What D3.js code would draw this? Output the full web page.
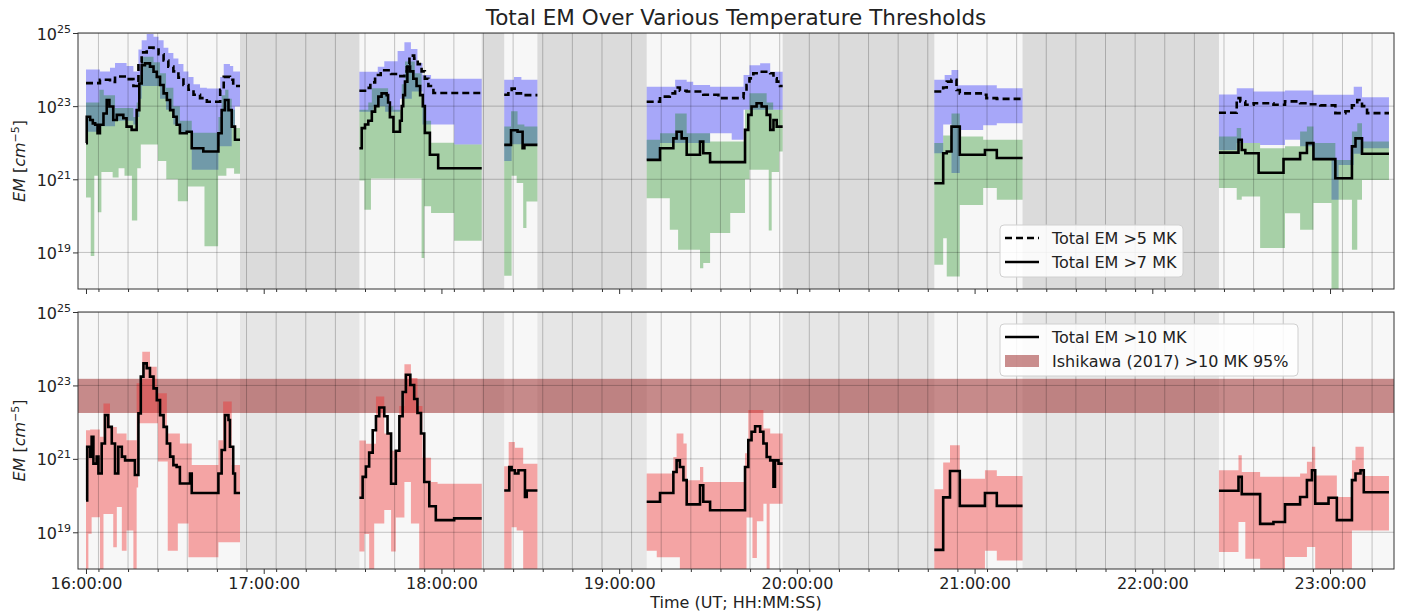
<!DOCTYPE html>
<html><head><meta charset="utf-8">
<script src="https://cdn.jsdelivr.net/npm/d3@7"></script>
<style>
body{margin:0;background:#fff}
text{font-family:"DejaVu Sans",sans-serif;fill:#222}
</style>
</head><body>
<svg id="chart" width="1403" height="614"></svg>
<script>
// ---------------- DATA (time = minutes after 16:00:00 UT, value = log10 EM [cm^-5]) ----------------
const hourTicks = [0, 60, 120, 180, 240, 300, 360, 420];
const hourLabels = ["16:00:00","17:00:00","18:00:00","19:00:00","20:00:00","21:00:00","22:00:00","23:00:00"];
const minorTicks = [4.2,14.2,24.2,34.2,44.2,54.2,64.2,74.2,84.2,94.2,104.2,114.2,124.2,134.2,144.2,154.2,164.2,174.2,184.2,194.2,204.2,214.2,224.2,234.2,244.2,254.2,264.2,274.2,284.2,294.2,304.2,314.2,324.2,334.2,344.2,354.2,364.2,374.2,384.2,394.2,404.2,414.2,424.2,434.2];
const yTickExp = [19, 21, 23, 25];
const nightStart = [52, 133.6, 152.4, 235.2, 316.2];
const nightEnd   = [92.3, 141.2, 189.3, 286.4, 382.5];
const ishikawaBand = [22.25, 23.18];

// Total EM > 5 MK (dashed)
const em5 = [
 [[0,23.63],[4.7,23.72],[8.1,23.66],[9.8,23.81],[13.7,23.74],[16.0,23.55],[17.7,24.2],[18.8,24.47],[20.5,24.6],[22.8,24.55],[24.5,24.42],[26.2,24.25],[27.8,24.08],[29.5,23.95],[31.2,23.78],[32.9,23.58],[34.6,23.45],[36.3,23.31],[38.5,23.22],[40.8,23.12],[45.3,23.45],[46.5,23.8],[48.6,23.72],[49.7,23.55],[52]],
 [[92.3,23.42],[94.2,23.5],[96,23.65],[97.6,23.85],[99.5,23.98],[103,23.88],[105.5,23.82],[107.5,23.95],[108.3,24.15],[109.2,24.38],[110.8,24.3],[112,24.15],[113.3,23.95],[114.4,23.75],[115.6,23.55],[117.3,23.36],[133.6]],
 [[141.2,23.31],[142.6,23.44],[143.7,23.48],[145.4,23.35],[147.6,23.3],[152.4]],
 [[189.3,23.12],[193.8,23.26],[197.1,23.35],[198.9,23.51],[200.5,23.42],[202.8,23.4],[208.4,23.31],[213.5,23.22],[222,23.35],[223,23.58],[224,23.76],[225.3,23.9],[227.6,23.94],[231,23.9],[232.1,23.76],[233.2,23.67],[234.3,23.55],[235.2]],
 [[286.4,23.4],[289.4,23.51],[290.6,23.67],[292.2,23.72],[293.9,23.44],[295,23.35],[302.9,23.31],[304,23.22],[307.5,23.2],[316.2]],
 [[382.5,22.82],[388.5,23.22],[389.7,23.13],[391.4,23.04],[394.2,23.08],[400.9,23.04],[404.8,23.13],[409.9,23.08],[412.2,23.05],[416.7,23.02],[421.8,22.81],[425.2,22.86],[427.4,23.02],[429.2,23.17],[430.8,23.0],[432.5,22.81],[439.9]]
];
const em5Hi = [
 [[0,24.0],[4.7,23.95],[8.1,24.05],[9.8,24.18],[13.7,24.1],[16,23.95],[17.7,24.55],[18.8,24.8],[20.5,24.97],[22.8,24.9],[24.5,24.8],[26.2,24.6],[27.8,24.45],[29.5,24.3],[31.2,24.15],[32.9,23.95],[34.6,23.8],[36.3,23.6],[38.5,23.5],[40.8,23.48],[45.3,23.8],[46.5,24.15],[48.6,24.1],[49.7,23.95],[52]],
 [[92.3,23.94],[98.5,24.08],[100.7,24.23],[105.2,24.51],[107.5,24.75],[109.7,24.56],[111.9,24.18],[113.6,23.85],[116.5,23.75],[133.6]],
 [[141.2,23.72],[144.5,23.8],[147,23.72],[152.4]],
 [[189.3,23.53],[198.9,23.72],[202.8,23.67],[205,23.58],[210.7,23.53],[222,23.85],[224,24.12],[227.6,24.17],[231,23.94],[235.2]],
 [[286.4,23.72],[289.9,23.85],[292.2,23.99],[294.5,23.57],[307.5,23.49],[316.2]],
 [[382.5,23.32],[388.5,23.49],[394.2,23.4],[404.8,23.43],[414.4,23.31],[428,23.53],[430.8,23.24],[439.9]]
];
const em5Lo = [
 [[0,22.3],[4.7,22.45],[9.8,22.6],[16,22.5],[17.1,22.7],[18,23.2],[18.8,23.55],[25,23.2],[27,22.9],[29.5,22.5],[31.7,22.26],[35.7,21.26],[44.7,21.9],[49.2,22.4],[50.3,22.99],[52]],
 [[92.3,22.85],[97,23.0],[101,22.85],[106,23.2],[110,23.4],[113.6,22.5],[124.3,21.95],[133.6]],
 [[141.2,21.5],[143.7,21.96],[152.4]],
 [[189.3,21.53],[193.8,21.99],[210.7,22.26],[218,22.08],[222,22.9],[235.2]],
 [[286.4,21.71],[289.4,22.5],[292.2,21.17],[295,22.35],[302.9,22.48],[307.5,22.53],[316.2]],
 [[382.5,21.8],[388.5,21.99],[396.4,21.94],[404.8,22.08],[409.9,21.9],[414.4,21.53],[420.5,20.44],[422.9,21.39],[428,21.7],[430.8,21.85],[439.9]]
];
// Total EM > 7 MK (solid, top panel)
const em7 = [
 [[0,21.99],[0.25,22.71],[1.4,22.62],[2.3,22.53],[3.1,22.49],[3.9,22.26],[4.7,22.49],[5.9,22.8],[7,23.17],[7.9,22.99],[9.2,22.62],[10.4,22.76],[12.6,22.67],[13.7,22.44],[15.4,22.35],[17.1,22.89],[18,23.62],[18.8,24.12],[19.9,24.17],[21.6,24.08],[22.8,23.94],[23.9,23.8],[25,23.58],[26.2,23.35],[27.3,23.17],[28.4,22.89],[29.5,22.71],[30.6,22.49],[31.7,22.26],[34,22.3],[35.7,21.85],[39.6,21.76],[44.7,22.26],[45.8,22.89],[46.9,23.17],[48.1,22.89],[49.2,22.44],[50.3,22.08],[52]],
 [[92.3,21.85],[93.1,22.4],[94.2,22.5],[95.3,22.6],[96.5,22.85],[97.6,23.0],[98.7,23.26],[99.8,23.35],[101.5,23.3],[102,23.1],[102.6,22.7],[103.8,22.3],[106,22.6],[106.6,23.0],[107.1,23.3],[107.7,23.67],[108.5,24.08],[109.4,23.95],[110.5,23.75],[111.6,23.55],[112.8,23.3],[113.7,23.0],[114.4,22.27],[116.1,21.67],[118.9,21.3],[133.6]],
 [[141.2,21.94],[143.5,22.34],[145.7,22.3],[147.4,21.85],[148,21.94],[152.4]],
 [[189.3,21.53],[193.8,21.85],[198.3,22.12],[199.4,22.3],[201.1,22.12],[202.8,21.67],[207.3,22.03],[208.4,21.71],[210.7,21.47],[222.5,22.35],[223.6,22.76],[224.7,22.99],[226.4,23.08],[228.1,22.99],[229.8,22.76],[231,22.35],[232.1,22.62],[233.2,22.44],[235.2]],
 [[286.4,20.89],[289.4,21.71],[290.6,21.76],[292.2,22.44],[295,21.67],[303.5,21.8],[307.5,21.58],[316.2]],
 [[382.5,21.73],[389.1,22.08],[390.2,21.8],[391.4,21.71],[395.9,21.18],[404.3,21.55],[409.9,21.72],[412.2,21.99],[414.4,21.55],[421.8,21.03],[427.4,21.9],[428.6,22.12],[430.8,21.7],[439.9]]
];
const em7Hi = [
 [[0,23.1],[4.5,23.45],[6,23.3],[9.8,22.95],[16,22.7],[17.1,23.1],[18,23.85],[18.8,24.35],[22.8,24.2],[25,23.9],[27,23.5],[29.5,23.0],[31.7,22.6],[35.7,22.27],[44.7,22.7],[45.8,23.3],[47,23.45],[48.1,23.2],[49.2,22.9],[50.3,22.4],[52]],
 [[92.3,22.9],[95.3,23.1],[96.5,23.49],[102,23.0],[103.8,22.9],[106.6,23.6],[107.7,24.22],[111,23.9],[113.3,23.0],[114.4,22.6],[116.5,22.0],[124.3,21.95],[133.6]],
 [[141.2,22.44],[143.5,22.86],[145.7,22.5],[148,22.44],[152.4]],
 [[189.3,22.08],[193.8,22.26],[198.9,22.8],[202.8,22.26],[210.7,22.03],[222.5,22.9],[224,23.35],[229.8,23.1],[232,22.9],[235.2]],
 [[286.4,21.99],[289.4,22.2],[292.2,22.8],[295,22.17],[302.9,22.08],[316.2]],
 [[382.5,22.17],[388.5,22.4],[390,21.99],[396.4,21.85],[404.8,21.9],[409.9,22.31],[412.2,22.44],[414.4,21.99],[421.8,21.53],[427.4,22.31],[429.2,22.53],[430.8,22.03],[439.9]]
];
const em7Lo = [
 [[0,20.5],[1.6,18.9],[2.8,21.1],[4.0,20.1],[5.2,21.2],[9.0,21.05],[11,21.3],[13,21.1],[15.5,19.87],[17.3,21.3],[18.5,21.95],[24.3,21.5],[27.1,21.0],[31,20.4],[34.4,20.8],[40,19.17],[44.6,21.1],[47.4,21.3],[50,21.15],[52]],
 [[92.3,20.97],[94,20.17],[96.2,21.02],[113.3,18.85],[114.2,20.26],[116.5,20.08],[124.3,19.32],[133.6]],
 [[141.2,18.36],[143.7,21.1],[145.4,20.9],[147.6,19.67],[148.7,20.39],[152.4]],
 [[189.3,20.48],[197.1,19.62],[199.9,19.07],[207.3,18.57],[208.4,18.71],[210.7,19.53],[217.5,20.08],[222.5,21.0],[224,21.26],[230.5,19.6],[231.5,21.2],[234,21.76],[235.2]],
 [[286.4,18.66],[289.4,19.39],[290.6,18.34],[295,20.3],[302.9,20.76],[307.5,20.44],[316.2]],
 [[382.5,20.76],[388.5,20.44],[390.2,20.53],[396.4,19.12],[404.8,20.07],[409.9,19.62],[414.4,20.35],[420.5,17.9],[422.9,20.44],[427.4,19.07],[429.2,20.44],[430.8,20.98],[439.9]]
];
// Total EM > 10 MK (bottom panel)
const em10 = [
 [[0,19.87],[0.4,21.33],[1.4,21.06],[1.9,21.6],[2.5,20.87],[3.6,21.06],[4.2,20.6],[5.3,21.42],[6.4,22.19],[7.5,21.87],[8.7,21.42],[9.8,20.6],[10.9,21.33],[12.1,21.06],[13.2,20.96],[15.4,20.96],[16.5,20.56],[17.7,22.24],[18.5,23.24],[19.4,23.6],[20.5,23.47],[21.6,23.24],[22.8,22.92],[23.9,22.6],[25,22.19],[26.2,21.87],[27.3,21.42],[28.4,21.06],[29.5,20.83],[30.6,20.78],[31.7,20.33],[35.1,20.6],[35.7,20.07],[44.7,20.6],[45.8,21.24],[46.9,22.19],[48.1,22.06],[48.6,21.33],[49.7,20.6],[50.3,20.07],[52]],
 [[92.3,19.94],[93.4,20.51],[94.5,20.79],[95.6,21.17],[96.8,21.78],[97.9,22.16],[99,22.4],[100.7,22.16],[101.8,21.69],[103,20.32],[104.6,21.22],[105.8,22.16],[106.9,22.82],[108,23.29],[109.5,23.01],[110.8,22.63],[111.9,22.25],[113.1,21.69],[114.2,20.37],[115.9,19.71],[118.1,19.33],[124.3,19.38],[133.6]],
 [[141.2,20.14],[142.9,20.78],[143.7,20.69],[144.8,20.6],[146,20.69],[148.2,19.96],[148.8,20.14],[152.4]],
 [[189.3,19.83],[193.8,20.07],[198.3,20.64],[199.4,20.96],[200.5,20.78],[201.7,20.42],[202.8,19.76],[207.3,20.28],[208.4,19.83],[210.7,19.6],[222.5,20.78],[223.6,21.51],[224.7,21.74],[225.9,21.89],[227.6,21.74],[228.7,21.42],[229.8,21.05],[231,20.96],[232.1,20.24],[232.6,20.96],[233.8,20.87],[235.2]],
 [[286.4,18.52],[289.4,19.95],[291.7,20.67],[295,19.72],[303.5,20.07],[307.5,19.72],[316.2]],
 [[382.5,20.13],[389.1,20.51],[390.2,20.04],[396.4,19.23],[400.9,19.28],[404.8,19.76],[409.9,19.96],[412.2,20.42],[413.9,20.69],[415,19.78],[419.5,19.94],[422.3,19.33],[427.4,20.42],[428.6,20.6],[430.3,20.69],[431.4,20.09],[439.9]]
];
const em10Hi = [
 [[0,21.78],[1.4,21.8],[4.7,21.6],[5.9,22.51],[8.1,21.87],[10.4,21.69],[13.7,21.51],[17.1,23.06],[19,23.92],[21.6,23.51],[23.9,22.79],[27.3,21.69],[31.7,21.42],[35.7,20.83],[44.7,21.51],[46.3,22.56],[49.2,20.83],[52]],
 [[92.3,21.5],[94.5,21.41],[97.9,22.7],[100.7,21.69],[103,21.22],[105.8,22.44],[107.5,23.58],[109.7,23.2],[111.9,22.44],[113.6,21.03],[116.5,20.37],[118.7,20.32],[133.6]],
 [[141.2,20.8],[142.7,21.46],[144.8,21.3],[147.6,20.87],[152.4]],
 [[189.3,20.6],[198.3,21.05],[199.4,21.69],[201.7,21.42],[202.8,20.42],[207.3,20.78],[208.4,20.37],[222.5,21.15],[223.6,22.33],[228.7,21.83],[231,21.69],[235.2]],
 [[286.4,20.17],[289.4,20.9],[291.7,21.37],[295,20.46],[303.5,20.69],[307.5,20.53],[316.2]],
 [[382.5,20.69],[389.1,21.1],[390.2,20.64],[396.4,20.51],[409.9,20.6],[412.2,20.92],[413.9,21.33],[415,20.55],[422.3,19.96],[427.4,20.96],[428.6,21.33],[431.4,20.53],[439.9]]
];
const em10Lo = [
 [[0,18.0],[0.8,18.96],[1.9,19.41],[4.7,17.9],[5.9,19.5],[9.2,18.59],[10.4,19.69],[12.1,18.5],[13.7,19.05],[16,17.9],[17.1,20.22],[17.6,21.97],[24.3,20.93],[27.6,18.5],[31,19.24],[34.6,18.32],[44.7,18.73],[52]],
 [[92.3,18.48],[94,18.95],[95.6,17.9],[97.3,19.24],[100.7,19.61],[103,18.48],[104.6,19.4],[107.5,20.37],[109.7,19.24],[112.5,17.9],[133.6]],
 [[141.2,17.9],[143.7,19.14],[145.4,19.05],[147.6,17.9],[152.4]],
 [[189.3,18.5],[192.7,18.32],[200.5,17.9],[223,19.4],[225,18.3],[226.5,19.3],[228.7,19.78],[229.8,17.9],[230.8,19.78],[235.2]],
 [[286.4,17.9],[303.5,18.5],[307.5,18.23],[316.2]],
 [[382.5,18.46],[389.1,19.28],[391.4,18.28],[396.4,17.9],[404.8,18.33],[412.2,18.6],[415,17.9],[427.4,19.05],[439.9]]
];

// ---------------- RENDERING ----------------
const svg = d3.select("#chart");
const L = 78, R = 1394;
const panels = [{top: 33, bottom: 289}, {top: 312, bottom: 569}];
const x = d3.scaleLinear().domain([-2.7, 441.6]).range([L, R]);
const ys = panels.map(p => d3.scaleLog().domain([1e18, 1e25]).range([p.bottom, p.top]));

function norm(seg) {
  const out = [];
  seg.forEach((p, i) => out.push(p.length > 1 ? p : [p[0], ...out[i - 1].slice(1)]));
  return out;
}
function stepAt(seg, t) {
  let v = seg[0][1];
  for (const p of seg) { if (p[0] <= t) v = p[1]; else break; }
  return v;
}
function bandPoints(loSeg, hiSeg) {
  const lo = norm(loSeg), hi = norm(hiSeg);
  const ts = Array.from(new Set(lo.map(d => d[0]).concat(hi.map(d => d[0])))).sort((a, b) => a - b);
  return ts.map(t => [t, stepAt(lo, t), stepAt(hi, t)]);
}

const defs = svg.append("defs");
panels.forEach((p, i) => {
  defs.append("clipPath").attr("id", "clip" + i).append("rect")
    .attr("x", L).attr("y", p.top).attr("width", R - L).attr("height", p.bottom - p.top);
});

function drawPanel(i) {
  const p = panels[i], y = ys[i];
  const g = svg.append("g");
  const cg = g.append("g").attr("clip-path", `url(#clip${i})`);
  cg.append("rect").attr("x", L).attr("y", p.top).attr("width", R - L).attr("height", p.bottom - p.top)
    .attr("fill", "#f7f7f7");
  cg.selectAll("rect.night").data(nightStart).join("rect").attr("class", "night")
    .attr("x", d => x(d)).attr("width", (d, k) => x(nightEnd[k]) - x(d))
    .attr("y", p.top).attr("height", p.bottom - p.top)
    .attr("fill", i === 0 ? "#dbdbdb" : "#e6e6e6");
  const area = d3.area().curve(d3.curveStepAfter)
    .x(d => x(d[0])).y0(d => y(Math.pow(10, d[1]))).y1(d => y(Math.pow(10, d[2])));
  const line = d3.line().curve(d3.curveStepAfter)
    .x(d => x(d[0])).y(d => y(Math.pow(10, d[1])));
  const bands = i === 0
    ? [[em5Lo, em5Hi, "rgba(0,0,255,0.32)"], [em7Lo, em7Hi, "rgba(0,128,0,0.32)"]]
    : [];
  if (i === 1) {
    cg.append("rect").attr("x", L).attr("width", R - L)
      .attr("y", y(Math.pow(10, ishikawaBand[1])))
      .attr("height", y(Math.pow(10, ishikawaBand[0])) - y(Math.pow(10, ishikawaBand[1])))
      .attr("fill", "rgba(150,30,30,0.5)");
    bands.push([em10Lo, em10Hi, "rgba(240,40,40,0.4)"]);
  }
  bands.forEach(([lo, hi, col]) => {
    lo.forEach((seg, k) => cg.append("path").attr("d", area(bandPoints(seg, hi[k]))).attr("fill", col));
  });
  // grid
  cg.selectAll("line.vg").data(minorTicks).join("line").attr("class", "vg")
    .attr("x1", d => x(d)).attr("x2", d => x(d)).attr("y1", p.top).attr("y2", p.bottom)
    .attr("stroke", "rgba(0,0,0,0.28)").attr("stroke-width", 0.8);
  cg.selectAll("line.hg").data(yTickExp).join("line").attr("class", "hg")
    .attr("x1", L).attr("x2", R).attr("y1", d => y(Math.pow(10, d))).attr("y2", d => y(Math.pow(10, d)))
    .attr("stroke", "rgba(0,0,0,0.28)").attr("stroke-width", 0.8);
  // lines
  const lines = i === 0 ? [[em5, "7,4"], [em7, null]] : [[em10, null]];
  lines.forEach(([series, dash]) => {
    series.forEach(seg => cg.append("path").attr("d", line(norm(seg)))
      .attr("fill", "none").attr("stroke", "#000").attr("stroke-width", 2.6)
      .attr("stroke-dasharray", dash));
  });
  // frame
  g.append("rect").attr("x", L).attr("y", p.top).attr("width", R - L).attr("height", p.bottom - p.top)
    .attr("fill", "none").attr("stroke", "#333").attr("stroke-width", 1);
  // x axis
  const xa = g.append("g").attr("transform", `translate(0,${p.bottom})`)
    .call(d3.axisBottom(x).tickValues(hourTicks).tickSize(5).tickPadding(4)
      .tickFormat((d, k) => i === 1 ? hourLabels[k] : ""));
  const xm = g.append("g").attr("transform", `translate(0,${p.bottom})`)
    .call(d3.axisBottom(x).tickValues(minorTicks).tickSize(3).tickFormat(""));
  [xa, xm].forEach(a => { a.select(".domain").remove(); a.selectAll("line").attr("stroke", "#333"); });
  xa.selectAll("text").attr("font-size", 16).attr("font-family", "DejaVu Sans").attr("fill", "#222");
  // y axis
  const ya = g.append("g").attr("transform", `translate(${L},0)`)
    .call(d3.axisLeft(y).tickValues(yTickExp.map(e => Math.pow(10, e))).tickSize(5).tickPadding(4).tickFormat(""));
  ya.select(".domain").remove();
  ya.selectAll("line").attr("stroke", "#333");
  ya.selectAll(".tick").append("text").attr("x", -7).attr("y", 6)
    .attr("text-anchor", "end").attr("font-size", 16).attr("fill", "#222")
    .each(function(d) {
      const t = d3.select(this);
      t.append("tspan").text("10");
      t.append("tspan").attr("dy", -7).attr("font-size", 11).text(Math.round(Math.log10(d)));
    });
  // y label
  const yl = g.append("text").attr("transform", `translate(25,${(p.top + p.bottom) / 2}) rotate(-90)`)
    .attr("text-anchor", "middle").attr("font-size", 16);
  yl.append("tspan").attr("font-style", "italic").text("EM");
  yl.append("tspan").text(" [");
  yl.append("tspan").attr("font-style", "italic").text("cm");
  yl.append("tspan").attr("dy", -6).attr("font-size", 11).text("−5");
  yl.append("tspan").attr("dy", 6).text("]");
}
drawPanel(0);
drawPanel(1);

// title and x label
svg.append("text").attr("x", (L + R) / 2).attr("y", 25).attr("text-anchor", "middle")
  .attr("font-size", 21.5).text("Total EM Over Various Temperature Thresholds");
svg.append("text").attr("x", (L + R) / 2).attr("y", 608).attr("text-anchor", "middle")
  .attr("font-size", 16).text("Time (UT; HH:MM:SS)");

// legends
function legend(x0, y0, w, h, items) {
  const g = svg.append("g");
  g.append("rect").attr("x", x0).attr("y", y0).attr("width", w).attr("height", h).attr("rx", 4)
    .attr("fill", "rgba(255,255,255,0.85)").attr("stroke", "#d0d0d0");
  items.forEach((it, k) => {
    const cy = y0 + 13 + k * 24;
    if (it.type === "patch") {
      g.append("rect").attr("x", x0 + 5).attr("y", cy - 6).attr("width", 34).attr("height", 12)
        .attr("fill", it.color);
    } else {
      g.append("line").attr("x1", x0 + 5).attr("x2", x0 + 39).attr("y1", cy).attr("y2", cy)
        .attr("stroke", "#000").attr("stroke-width", 2.6).attr("stroke-dasharray", it.dash);
    }
    g.append("text").attr("x", x0 + 52).attr("y", cy + 6).attr("font-size", 16).text(it.label);
  });
}
legend(1000, 225, 183, 52, [
  {type: "line", dash: "7,4", label: "Total EM >5 MK"},
  {type: "line", dash: null, label: "Total EM >7 MK"}
]);
legend(1000, 324, 298, 52, [
  {type: "line", dash: null, label: "Total EM >10 MK"},
  {type: "patch", color: "rgba(150,30,30,0.5)", label: "Ishikawa (2017) >10 MK 95%"}
]);
</script>
</body></html>
